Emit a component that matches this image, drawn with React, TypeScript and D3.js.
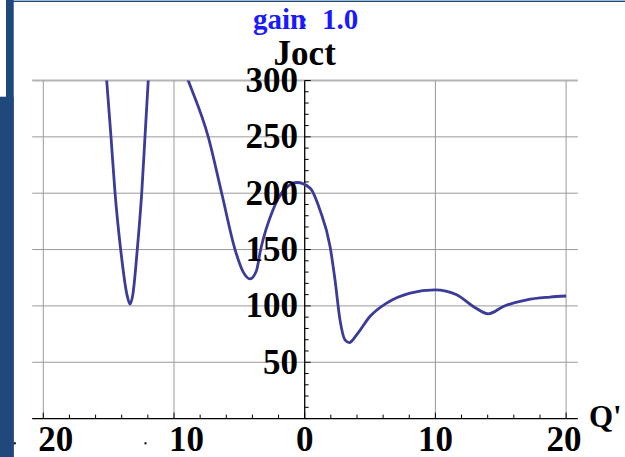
import React from 'react';
import * as d3 from 'd3';

// Q' (x) and Joct (y); null breaks the line where it leaves the top
const qValues: number[] = [
  -15.42, -15.15, -14.82, -14.51, -14.08, -13.6, -13.37, -13.15, -12.81, -12.47, -12.22, -11.97, -11.77,
  -10.5,
  -9.3, -8.91, -7.38, -6.35, -5.33, -4.7, -4.19, -3.7, -3.37, -2.43, -2.04, -1.3, -0.6, 0.41, 1.17, 1.94,
  2.32, 2.7, 3.08, 3.41, 3.98, 4.99, 6.27, 8.06, 9.97, 11.63, 12.9, 14.05, 15.2, 16.99, 18.77, 20,
];
const joctValues: (number | null)[] = [
  340, 300, 250, 200, 150, 110, 101.5, 110, 150, 200, 250, 300, 340,
  null,
  312, 300, 250, 200, 150, 130, 124, 131, 150, 185, 195, 206, 209.5, 204.5, 185, 152.7,
  123, 87.6, 69.9, 67.5, 74.4, 90.6, 102.5, 111.4, 114.3, 109.9, 99.5, 93, 99.5, 105.4, 107.8, 108.8,
];

const xMajorTicks = [-20, -10, 0, 10, 20];
const xMinorTicks = d3.range(-20, 21, 2);
const yMajorTicks = [50, 100, 150, 200, 250, 300];
const yMinorTicks = d3.range(0, 301, 10);

const W = 625;
const H = 457;
const serif = '"Liberation Serif", "Times New Roman", serif';

const x = d3.scaleLinear().domain([-20, 20]).range([43.3, 566.1]);
const y = d3.scaleLinear().domain([0, 300]).range([418.6, 80.5]);
const xLeft = x(-20.85);
const xRight = x(20.9);

export default function App() {
  const points = qValues.map((q, i) => ({ q, v: joctValues[i] }));
  const line = d3
    .line<{ q: number; v: number | null }>()
    .defined(d => d.v !== null)
    .x(d => x(d.q))
    .y(d => y(d.v as number))
    .curve(d3.curveMonotoneX);

  return (
    <svg width={W} height={H} style={{ position: 'absolute', left: 0, top: 0, background: '#fff' }}>
      <defs>
        <clipPath id="plot">
          <rect x={xLeft} y={y(300)} width={xRight - xLeft} height={y(0) - y(300)} />
        </clipPath>
      </defs>

      {/* frame pieces */}
      <rect x={6} y={0} width={7.7} height={H} fill="#1f497d" />
      <rect x={0} y={96.7} width={13.7} height={H - 96.7} fill="#1f497d" />
      <rect x={13} y={0.6} width={W - 13} height={1.4} fill="#1f497d" />

      {/* grid */}
      {yMajorTicks.map(t => (
        <line
          key={'gy' + t}
          x1={xLeft}
          x2={xRight}
          y1={y(t)}
          y2={y(t)}
          stroke={t === 300 ? '#b4b4b4' : '#9a9a9a'}
          strokeWidth={t === 300 ? 1.8 : 1}
        />
      ))}
      {xMajorTicks.map(t => (
        <line key={'gx' + t} x1={x(t)} x2={x(t)} y1={y(300)} y2={y(0)} stroke="#9a9a9a" strokeWidth={1} />
      ))}

      {/* axes */}
      <line x1={xLeft} x2={xRight} y1={y(0)} y2={y(0)} stroke="#000" strokeWidth={1.2} />
      <line x1={x(0)} x2={x(0)} y1={y(300)} y2={y(0)} stroke="#000" strokeWidth={1.2} />
      {xMinorTicks.map(t => (
        <line key={'tx' + t} x1={x(t)} x2={x(t)} y1={y(0)} y2={y(0) - (t % 10 === 0 ? 6 : 4)} stroke="#000" />
      ))}
      {yMinorTicks.map(t => (
        <line key={'ty' + t} x1={x(0)} x2={x(0) + (t % 50 === 0 ? 6 : 4)} y1={y(t)} y2={y(t)} stroke="#000" />
      ))}

      {/* curve */}
      <path
        d={line(points) ?? ''}
        fill="none"
        stroke="#3b3b99"
        strokeWidth={2.8}
        strokeLinejoin="round"
        clipPath="url(#plot)"
      />

      {/* tick labels */}
      <g fontFamily={serif} fontWeight="bold" fontSize={35} fill="#000">
        {xMajorTicks.map(t =>
          t < 0 ? (
            <g key={'lx' + t}>
              <rect x={x(t) - 29.5} y={442.3} width={2} height={2} fill="#000" />
              <text x={x(t) - 5} y={451} textAnchor="start">
                {String(-t)}
              </text>
            </g>
          ) : (
            <text key={'lx' + t} x={x(t) - (t === 20 ? 2 : 0)} y={451} textAnchor="middle">
              {String(t)}
            </text>
          )
        )}
        {yMajorTicks.map(t => (
          <text key={'ly' + t} x={298} y={y(t) + 11.5} textAnchor="end">
            {String(t)}
          </text>
        ))}
        <text x={x(0)} y={65} textAnchor="middle">
          Joct
        </text>
        <text x={589} y={427} fontSize={31}>
          Q'
        </text>
      </g>

      {/* gain label */}
      <g fontFamily={serif} fontWeight="bold" fill="#1a1aff">
        <text x={253} y={28.5} fontSize={29}>
          gain
        </text>
        <text x={301} y={27} fontSize={19}>
          :
        </text>
        <text x={322} y={28.5} fontSize={29}>
          1.0
        </text>
      </g>
    </svg>
  );
}
